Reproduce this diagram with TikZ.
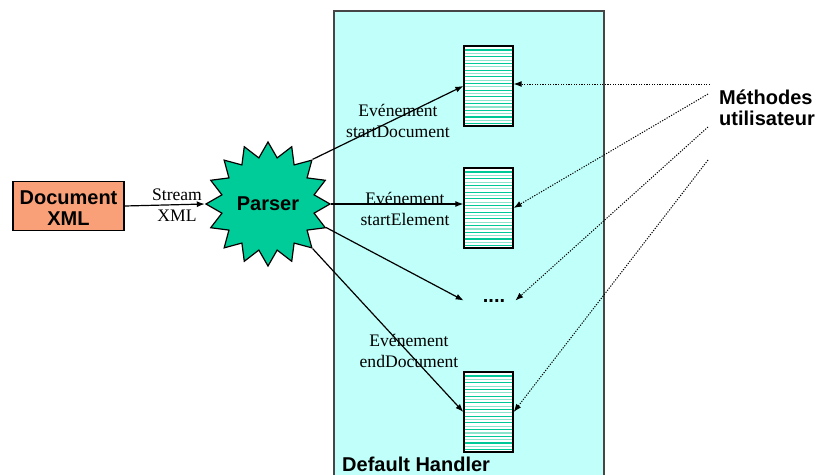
\documentclass[tikz,border=0pt]{standalone}
\usepackage{fontspec}
\setmainfont{Liberation Serif}
\newfontfamily\headfont{Liberation Sans}
\usetikzlibrary{shapes.geometric,arrows.meta}
\definecolor{handlerfill}{RGB}{192,255,250}
\definecolor{handleredge}{RGB}{70,70,70}
\definecolor{docfill}{RGB}{250,160,120}
\definecolor{parserfill}{RGB}{0,204,153}
\definecolor{stripedark}{RGB}{0,200,150}
\definecolor{stripelight}{RGB}{140,228,205}
\begin{document}
\begin{tikzpicture}[x=1pt,y=-1pt,
  every node/.style={inner sep=0pt},
  % multi-line nodes: the base anchor sits on the last line
  evlabel/.style={font=\fontsize{17.6}{21}\selectfont, align=center, anchor=base},
  heading/.style={font=\headfont\bfseries\fontsize{20}{21}\selectfont},
  flow/.style={line width=1.2pt, -{Latex[length=8pt,width=6pt]}},
  hook/.style={line width=1pt, dash pattern=on 1.2pt off 1.4pt, -{Latex[length=8pt,width=6pt]}},
  eventbox/.style={draw=black, line width=1.3pt, fill=white,
    minimum width=49pt, minimum height=80pt,
    path picture={
      \foreach \k in {0,...,11}
        \draw[stripedark, line width=1.1pt]
          ([yshift={-(4+6.7*\k)*1pt}]path picture bounding box.north west) --
          ([yshift={-(4+6.7*\k)*1pt}]path picture bounding box.north east);
      \foreach \k in {0,...,10}
        \draw[stripelight, line width=1.1pt]
          ([yshift={-(7.35+6.7*\k)*1pt}]path picture bounding box.north west) --
          ([yshift={-(7.35+6.7*\k)*1pt}]path picture bounding box.north east);
    }},
]
\useasboundingbox (0,0) rectangle (818,474);

% handler frame
\node[draw=handleredge, line width=1.8pt, fill=handlerfill,
      minimum width=270pt, minimum height=480pt, anchor=north west]
  (handler) at (333,10) {};
\node[heading, anchor=base west] (handlername) at (342,471) {Default Handler};

% source document and parser
\node[draw, line width=1.3pt, fill=docfill, minimum width=111pt,
      minimum height=49pt] (doc) at (68.5,206) {};
\node[heading, align=center, anchor=base] (doctext) at (68.5,225) {Document\\XML};
\node[star, star points=16, star point ratio=1.32, minimum size=124pt,
      draw, line width=1.2pt, fill=parserfill, heading] (parser) at (268,204) {Parser};

% handler methods
\node[eventbox] (box1) at (488.5,86) {};
\node[eventbox] (box2) at (488.5,208) {};
\node[eventbox] (box3) at (488.5,412) {};
\node[heading, anchor=base] (dots) at (494,302) {....};

% labels
\node[evlabel] (lblstream) at (177,221) {Stream\\XML};
\node[evlabel] (lblstartdoc) at (398,137) {Evénement\\startDocument};
\node[evlabel] (lblstartel) at (405,225) {Evénement\\startElement};
\node[evlabel] (lblenddoc) at (409,367) {Evénement\\endDocument};
\node[heading, anchor=base west, align=left] (methods) at (719,125) {Méthodes\\utilisateur};

% event flow
\draw[flow] (doc.east) -- (parser.west);
\draw[flow] (parser.45) -- (box1.west);
\draw[flow] (parser.east) -- (parser.east -| box2.west);
\draw[flow] (parser.-22.5) -- ([xshift=-19pt]dots.west);
\draw[flow] (parser.-45) -- (box3.west);

% user methods
\coordinate (m1) at (710,84);
\coordinate (m2) at (708,94);
\coordinate (m3) at (708,127);
\coordinate (m4) at (708,160);
\draw[hook] (m1) -- (m1 -| box1.east);
\draw[hook] (m2) -- (box2.east);
\draw[hook] (m3) -- ([xshift=10pt]dots.east);
\draw[hook] (m4) -- (box3.east);
\end{tikzpicture}
\end{document}
